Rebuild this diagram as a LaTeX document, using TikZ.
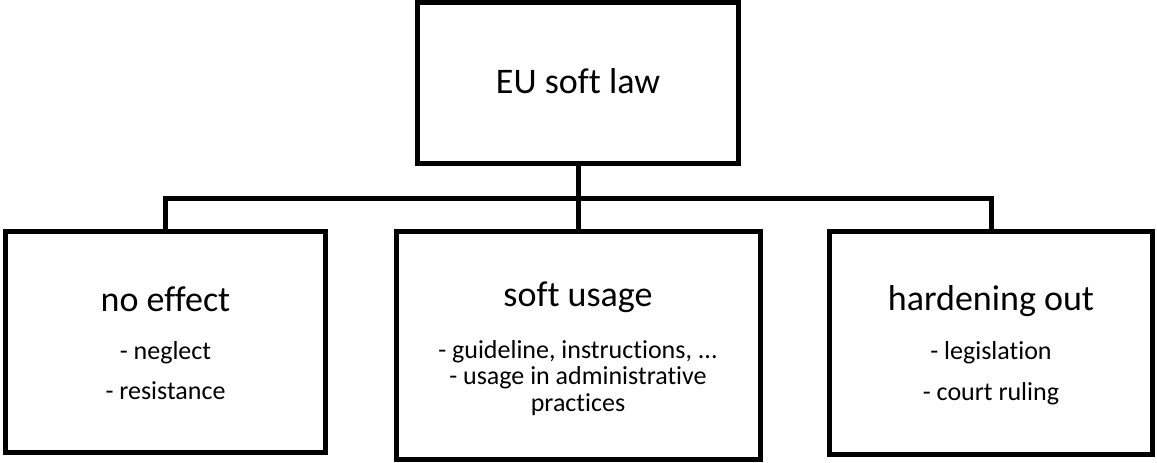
\documentclass[tikz,border=0pt]{standalone}
\usepackage{fontspec}
\setmainfont{Carlito}[Ligatures=NoCommon]
\begin{document}
\begin{tikzpicture}[
    x=1pt, y=-1pt,
    box/.style={rectangle, draw, line width=5pt, inner sep=0pt},
    head/.style={anchor=base, inner sep=0pt, font=\fontsize{36}{43}\selectfont},
    item/.style={anchor=base, inner sep=0pt, font=\fontsize{26}{31}\selectfont},
    link/.style={line width=5pt, line join=miter}
]
\useasboundingbox (0,0) rectangle (1157,463);

% Boxes
\node[box, minimum width=321pt, minimum height=161pt] (top) at (578, 83) {};
\node[box, minimum width=320pt, minimum height=221pt] (noeff) at (165.5, 342) {};
\node[box, minimum width=364pt, minimum height=228pt] (soft) at (578, 345.5) {};
\node[box, minimum width=323pt, minimum height=223pt] (hard) at (991, 343) {};

% Texts
\node[head] (toptxt) at (578, 93) {EU soft law};
\node[head] (noefftxt) at (165.5, 311) {no effect};
\node[item] (neglect) at (165.5, 359) {- neglect};
\node[item] (resist) at (165.5, 399) {- resistance};
\node[head] (softtxt) at (578, 306) {soft usage};
\node[item] (guide) at (578, 358) {- guideline, instructions, ...};
\node[item] (admin) at (578, 384.5) {- usage in administrative};
\node[item] (pract) at (578, 411) {practices};
\node[head] (hardtxt) at (991, 310) {hardening out};
\node[item] (legis) at (991, 359) {- legislation};
\node[item] (court) at (991, 400) {- court ruling};

% Connectors
\coordinate (split) at (578, 198.5);
\draw[link] (top.south) -- (split);
\draw[link] (split) -- (soft.north);
\draw[link] (noeff.north) |- (split) -| (hard.north);

\end{tikzpicture}
\end{document}
